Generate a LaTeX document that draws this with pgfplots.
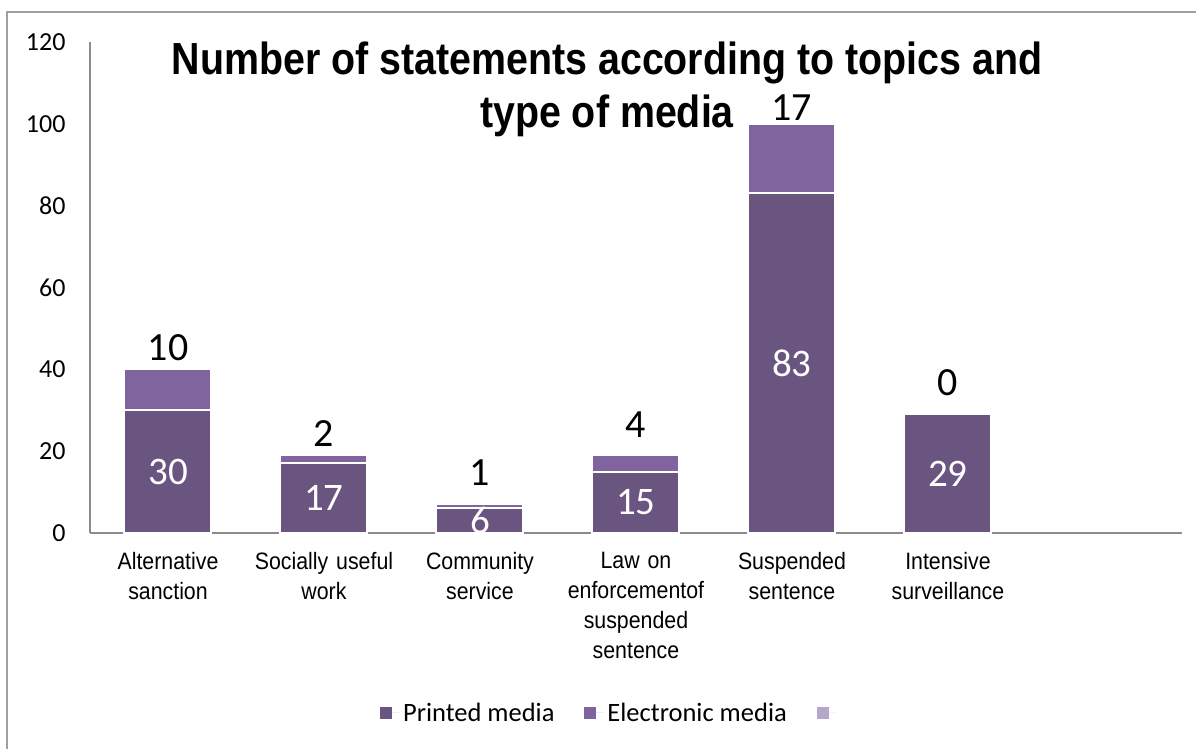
\documentclass[border=0pt]{standalone}
\usepackage{pgfplots}
\usepackage{pgfplotstable}
\pgfplotsset{compat=1.18}
\usepackage{fontspec}
\setmainfont{Carlito}
\newfontfamily\titlefont[FakeStretch=0.875]{Liberation Sans}
\newfontfamily\catfont[FakeStretch=0.9]{Liberation Sans}
\definecolor{printed}{HTML}{6A5480}
\definecolor{electronic}{HTML}{7F649D}
\definecolor{thirdc}{HTML}{B4A7CA}
\definecolor{axisgray}{HTML}{8C8C8C}
\definecolor{framegray}{HTML}{A0A0A0}
% g = extra gap (px) of the top label above the bar, as placed in the reference
\pgfplotstableread{
x p e g
0 30 10 5
1 17 2 5
2 6 1 15
3 15 4 14
4 83 17 0
5 29 0 15
}\datatable
\pgfplotsset{sqlegend/.style={legend image code/.code={\fill[##1] (0pt,-6pt) rectangle (12pt,6pt); \path (0pt,0pt) -- (19pt,0pt);}}}
\pgfplotsset{commongeom/.style={at={(90pt,216pt)}, anchor=south west,
  scale only axis, width=1092pt, height=491pt,
  xmin=-0.5, xmax=6.5, ymin=0, ymax=120}}
\begin{document}
\begin{tikzpicture}
\useasboundingbox (0pt,0pt) rectangle (1196pt,749pt);
\fill[white] (0pt,0pt) rectangle (1196pt,749pt);
\draw[framegray, line width=1.5pt] (7pt,0pt) -- (7pt,737pt) -- (1196pt,737pt);
\begin{axis}[
  commongeom,
  ybar stacked, bar width=87pt,
  axis lines*=left,
  axis line style={axisgray, line width=1.5pt},
  xtick={0,1,2,3,4,5},
  xticklabels={{Alternative\\sanction},{Socially useful\\work},{Community\\service},{Law on\\enforcementof\\suspended\\sentence},{Suspended\\sentence},{Intensive\\surveillance}},
  ytick={0,20,40,60,80,100,120},
  major tick length=0pt,
  xticklabel style={font=\catfont\fontsize{23.7}{30}\selectfont, align=center, text width=170pt, yshift=-16pt},
  yticklabel style={font=\fontsize{26}{26}\selectfont, xshift=-21pt},
  /pgf/number format/assume math mode=true,
  legend columns=3,
  legend style={draw=none, fill=none, at={(0.478,-0.3666)}, anchor=center,
    font=\fontsize{26.5}{26.5}\selectfont,
    /tikz/every even column/.append style={column sep=26pt},
    nodes={inner sep=4pt}},
  legend cell align=left,
  clip=false,
]
\addplot[fill=printed, draw=white, line width=2pt, forget plot]
  table[x=x, y=p] {\datatable};
\addplot[fill=electronic, draw=white, line width=2pt, forget plot]
  table[x=x, y=e] {\datatable};
\addlegendimage{fill=printed, draw=none, sqlegend}
\addlegendentry{Printed media}
\addlegendimage{fill=electronic, draw=none, sqlegend}
\addlegendentry{Electronic media}
\addlegendimage{fill=thirdc, draw=none, sqlegend}
\addlegendentry{}
\end{axis}
\begin{axis}[commongeom, hide axis, clip=false,
  every node near coord/.append style={anchor=center, text=white}]
\addplot[draw=none, mark=none, point meta=explicit symbolic,
  nodes near coords={\fontsize{39}{39}\selectfont\pgfplotspointmeta}]
  table[x=x, y expr=\thisrow{p}/2, meta=p] {\datatable};
\end{axis}
\begin{axis}[commongeom, hide axis, clip=false,
  every node near coord/.append style={anchor=south, text=black}]
\addplot[draw=none, mark=none, point meta=explicit symbolic,
  nodes near coords={\fontsize{40}{40}\selectfont\pgfplotspointmeta}]
  table[x=x, y expr=\thisrow{p}+\thisrow{e}+\thisrow{g}/4.0917, meta=e] {\datatable};
\end{axis}
\node[anchor=base, font=\titlefont\bfseries\fontsize{45}{53}\selectfont] at (607pt,674pt) {Number of statements according to topics and};
\node[anchor=base, font=\titlefont\bfseries\fontsize{45}{53}\selectfont] at (607pt,621pt) {type of media};
\end{tikzpicture}
\end{document}
